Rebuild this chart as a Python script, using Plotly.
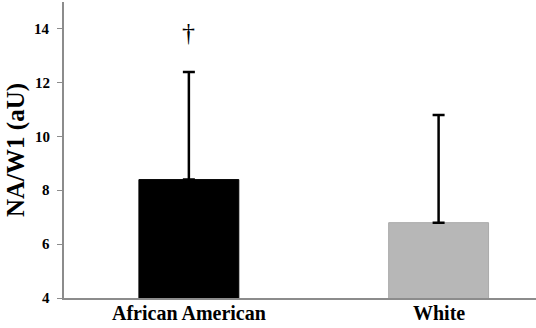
import plotly.graph_objects as go

categories = ["African American", "White"]
values = [8.4, 6.8]
errors_plus = [4.0, 4.0]
bar_colors = ["#000000", "#b7b7b7"]
y_ticks = [4, 6, 8, 10, 12, 14]
marker_label = "†"
y_title = "NA/W1 (aU)"

SERIF = "Liberation Serif"

fig = go.Figure()
fig.add_trace(go.Bar(
    x=categories, y=values, width=0.4,
    marker=dict(color=bar_colors, line=dict(color=["#000000", "#aaaaaa"], width=1)),
    error_y=dict(type="data", array=errors_plus, arrayminus=[0, 0], symmetric=False,
                 color="#000000", thickness=2.5, width=6),
))
fig.add_annotation(x=categories[0], y=13.85, text=marker_label, showarrow=False,
                   font=dict(family=SERIF, size=26, color="#000"))

# tick labels as annotations (serif bold)
for c in categories:
    fig.add_annotation(x=c, xref="x", y=0, yref="paper", yanchor="top", yshift=-3,
                       text="<b>%s</b>" % c, showarrow=False, borderpad=0,
                       font=dict(family=SERIF, size=20, color="#000"))
for t in y_ticks:
    fig.add_annotation(x=0, xref="paper", xanchor="right", xshift=-12, y=t, yref="y",
                       text="<b>%d</b>" % t, showarrow=False,
                       font=dict(family=SERIF, size=15, color="#000"))
fig.add_annotation(x=0, xref="paper", xanchor="center", xshift=-48, y=0.5, yref="paper",
                   text="<b>%s</b>" % y_title, textangle=-90, showarrow=False,
                   font=dict(family=SERIF, size=25, color="#000"))

fig.update_layout(
    template="none",
    width=536, height=328,
    margin=dict(l=64, r=0, t=2, b=30),
    paper_bgcolor="white", plot_bgcolor="white",
    showlegend=False,
    font=dict(family=SERIF, color="#000", size=14),
    xaxis=dict(type="category", range=[-0.5, 1.39], showline=True, linecolor="#8c8c8c", linewidth=1.5,
               ticks="", showticklabels=False, showgrid=False, zeroline=False),
    yaxis=dict(range=[4, 15], tickvals=y_ticks, showticklabels=False,
               showline=True, linecolor="#8c8c8c", linewidth=1.5,
               ticks="outside", ticklen=5, tickcolor="#8c8c8c", showgrid=False, zeroline=False),
)
fig.write_html("out.html", post_script="document.body.style.margin='0';",
               config={"displayModeBar": False})
